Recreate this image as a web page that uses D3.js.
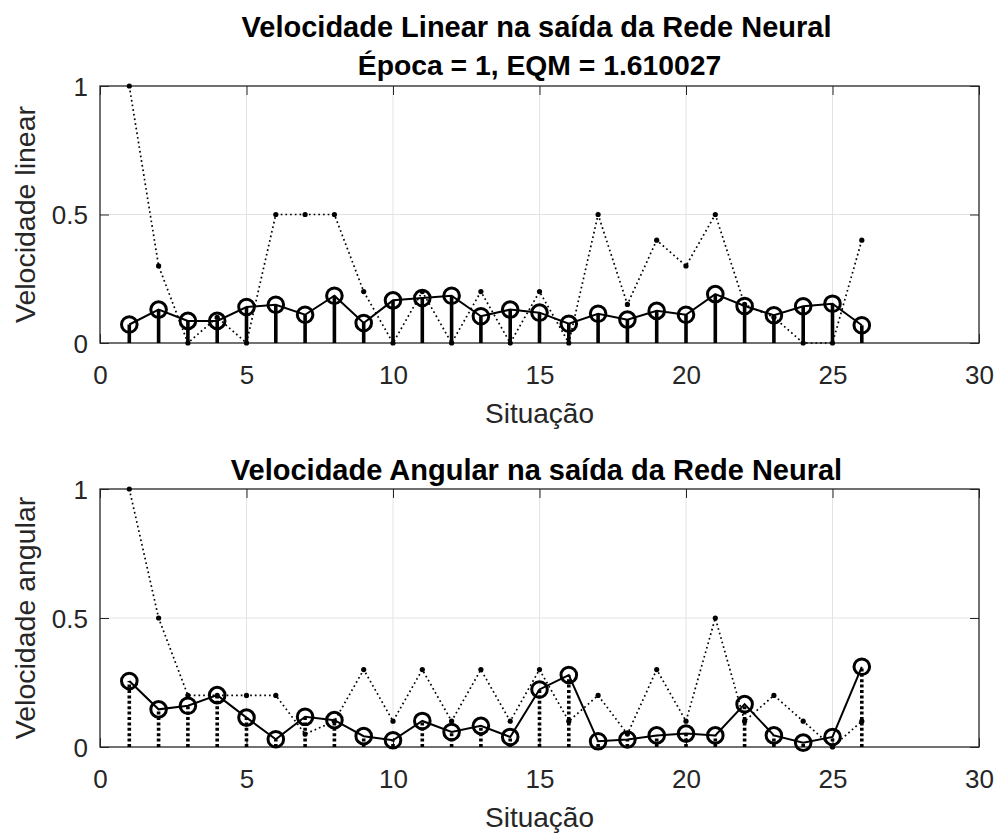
<!DOCTYPE html>
<html>
<head>
<meta charset="utf-8">
<script src="https://cdn.jsdelivr.net/npm/d3@7"></script>
<style>
  html, body { margin: 0; padding: 0; background: #fff; }
  svg { display: block; }
  text { font-family: "Liberation Sans", Arial, Helvetica, sans-serif; }
</style>
</head>
<body>
<svg id="chart" width="998" height="834"></svg>
<script>
// ---- data ----
const situacao = [1,2,3,4,5,6,7,8,9,10,11,12,13,14,15,16,17,18,19,20,21,22,23,24,25,26];
const linearTarget = [1.0,0.3,0,0.1,0,0.5,0.5,0.5,0.2,0,0.2,0,0.2,0,0.2,0,0.5,0.15,0.4,0.3,0.5,0.15,0.1,0,0,0.4];
const linearOutput = [0.072,0.130,0.086,0.086,0.140,0.149,0.110,0.184,0.078,0.166,0.175,0.184,0.104,0.130,0.118,0.075,0.114,0.091,0.125,0.110,0.190,0.144,0.108,0.143,0.153,0.069];
const angularTarget = [1.0,0.5,0.2,0.2,0.2,0.2,0.05,0.1,0.3,0.1,0.3,0.1,0.3,0.1,0.3,0.1,0.2,0.05,0.3,0.1,0.5,0.1,0.2,0.1,0,0.1];
const angularOutput = [0.256,0.146,0.160,0.201,0.114,0.030,0.117,0.104,0.042,0.026,0.101,0.058,0.082,0.039,0.223,0.279,0.022,0.029,0.045,0.052,0.045,0.166,0.045,0.017,0.039,0.311];
const xTicks = [0,5,10,15,20,25,30];
const yTicks = [0,0.5,1];
const xDomain = [0,30];
const yDomain = [0,1];
const titleTop = ["Velocidade Linear na saída da Rede Neural", "Época = 1, EQM = 1.610027"];
const titleBottom = "Velocidade Angular na saída da Rede Neural";
const xLabel = "Situação";
const yLabelTop = "Velocidade linear";
const yLabelBottom = "Velocidade angular";

// ---- drawing ----
const svg = d3.select("#chart");
const AX = "#262626";
const GRID = "#e3e3e3";
const x = d3.scaleLinear().domain(xDomain).range([100, 979]);

function panel(cfg) {
  const y = d3.scaleLinear().domain(yDomain).range([cfg.bottom, cfg.top]);
  const g = svg.append("g");

  // grid
  g.selectAll(".gx").data(xTicks.filter(t => t > xDomain[0] && t < xDomain[1])).join("line")
    .attr("x1", d => x(d)).attr("x2", d => x(d))
    .attr("y1", cfg.top).attr("y2", cfg.bottom)
    .attr("stroke", GRID).attr("stroke-width", 1);
  g.selectAll(".gy").data(yTicks.filter(t => t > yDomain[0] && t < yDomain[1])).join("line")
    .attr("x1", x.range()[0]).attr("x2", x.range()[1])
    .attr("y1", d => y(d)).attr("y2", d => y(d))
    .attr("stroke", GRID).attr("stroke-width", 1);

  // axes
  const tk = 9;
  const xb = g.append("g").attr("transform", `translate(0,${cfg.bottom})`)
    .call(d3.axisBottom(x).tickValues(xTicks).tickSize(-tk).tickSizeOuter(0).tickFormat(d3.format("d")));
  const xt = g.append("g").attr("transform", `translate(0,${cfg.top})`)
    .call(d3.axisTop(x).tickValues(xTicks).tickSize(-tk).tickSizeOuter(0).tickFormat(""));
  const yl = g.append("g").attr("transform", `translate(${x.range()[0]},0)`)
    .call(d3.axisLeft(y).tickValues(yTicks).tickSize(-tk).tickSizeOuter(0).tickFormat(d => d === 0.5 ? "0.5" : d3.format("d")(d)));
  const yr = g.append("g").attr("transform", `translate(${x.range()[1]},0)`)
    .call(d3.axisRight(y).tickValues(yTicks).tickSize(-tk).tickSizeOuter(0).tickFormat(""));
  [xb, xt, yl, yr].forEach(a => {
    a.select(".domain").remove();
    a.selectAll(".tick line").attr("stroke", AX).attr("stroke-width", 1);
  });
  xb.selectAll(".tick text").attr("y", 41).attr("dy", 0)
    .attr("fill", AX).attr("font-size", 26).attr("font-family", "Liberation Sans, Arial, sans-serif");
  yl.selectAll(".tick text").attr("x", -12).attr("dy", "0.36em")
    .attr("fill", AX).attr("font-size", 26).attr("font-family", "Liberation Sans, Arial, sans-serif");
  // box
  g.append("rect").attr("x", x.range()[0]).attr("y", cfg.top)
    .attr("width", x.range()[1] - x.range()[0]).attr("height", cfg.bottom - cfg.top)
    .attr("fill", "none").attr("stroke", AX).attr("stroke-width", 1.3);

  const plot = g.append("g");
  // target dotted line
  plot.append("path").datum(situacao.map((s, i) => [s, cfg.target[i]]))
    .attr("d", d3.line().x(d => x(d[0])).y(d => y(d[1])))
    .attr("fill", "none").attr("stroke", "#000").attr("stroke-width", 1.7)
    .attr("stroke-dasharray", "1.7,3");
  plot.selectAll(".tdot").data(situacao.map((s, i) => [s, cfg.target[i]])).join("circle")
    .attr("cx", d => x(d[0])).attr("cy", d => y(d[1])).attr("r", 2.6).attr("fill", "#000");

  // stems
  plot.selectAll(".stem").data(situacao.map((s, i) => [s, cfg.output[i]])).join("line")
    .attr("x1", d => x(d[0])).attr("x2", d => x(d[0]))
    .attr("y1", y(0)).attr("y2", d => y(d[1]))
    .attr("stroke", "#000").attr("stroke-width", 3.6)
    .attr("stroke-dasharray", cfg.stemDash);

  // output line
  plot.append("path").datum(situacao.map((s, i) => [s, cfg.output[i]]))
    .attr("d", d3.line().x(d => x(d[0])).y(d => y(d[1])))
    .attr("fill", "none").attr("stroke", "#000").attr("stroke-width", 2);
  plot.selectAll(".ocirc").data(situacao.map((s, i) => [s, cfg.output[i]])).join("circle")
    .attr("cx", d => x(d[0])).attr("cy", d => y(d[1])).attr("r", 7.8)
    .attr("fill", "none").attr("stroke", "#000").attr("stroke-width", 3);

  // y label
  g.append("text").attr("transform", `translate(35,${(cfg.top + cfg.bottom) / 2}) rotate(-90)`)
    .attr("text-anchor", "middle").attr("font-size", 28.5).attr("fill", AX).text(cfg.ylabel);
  // x label
  g.append("text").attr("x", (x.range()[0] + x.range()[1]) / 2).attr("y", cfg.bottom + 80)
    .attr("text-anchor", "middle").attr("font-size", 28).attr("fill", AX).text(xLabel);
  // titles
  cfg.titles.forEach((t, i) => {
    g.append("text").attr("x", (x.range()[0] + x.range()[1]) / 2 - (i === 0 ? 3 : 0)).attr("y", cfg.titleY[i])
      .attr("text-anchor", "middle").attr("font-size", i === 0 ? 29 : 28.3).attr("font-weight", "bold")
      .attr("fill", "#000").text(t);
  });
}

panel({ top: 86, bottom: 343, target: linearTarget, output: linearOutput, stemDash: null,
        ylabel: yLabelTop, titles: titleTop, titleY: [37, 75] });
panel({ top: 489, bottom: 747, target: angularTarget, output: angularOutput, stemDash: "3,2.4",
        ylabel: yLabelBottom, titles: [titleBottom], titleY: [480] });
</script>
</body>
</html>
